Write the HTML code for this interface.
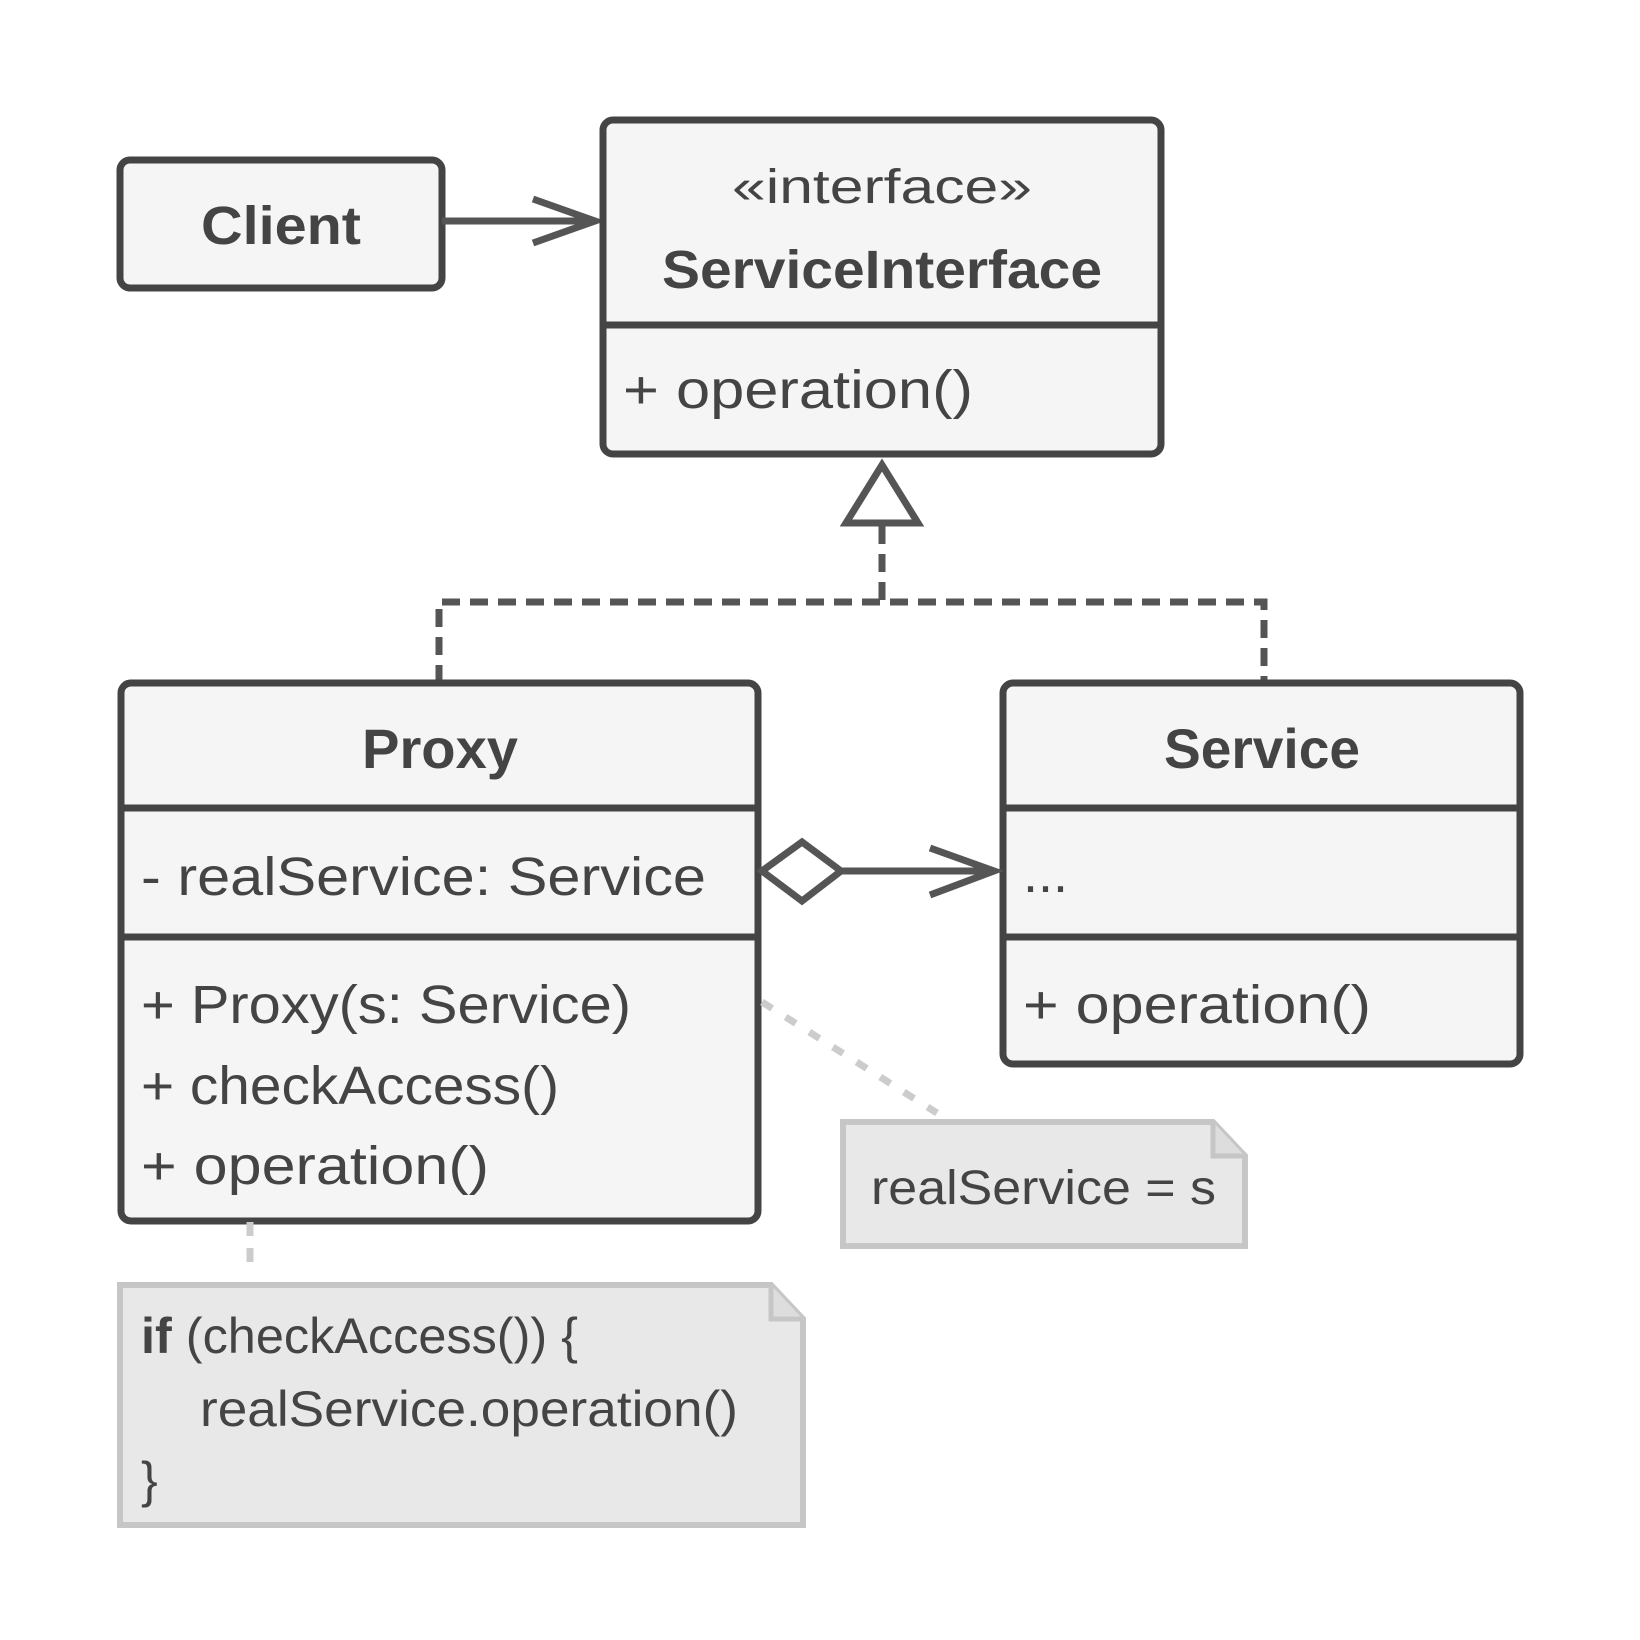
<!DOCTYPE html>
<html><head><meta charset="utf-8"><style>
html,body{margin:0;padding:0;background:#fff;}
svg{display:block}
text{font-family:"Liberation Sans",sans-serif;fill:#444;}
.b{font-weight:bold}
</style></head><body>
<svg width="1640" height="1640" viewBox="0 0 1640 1640" xmlns="http://www.w3.org/2000/svg">
<!-- Client -->
<rect x="120" y="160" width="322" height="128" rx="10" fill="#f5f5f5" stroke="#444" stroke-width="7"/>
<text x="281" y="244" class="b" font-size="54" text-anchor="middle" textLength="160" lengthAdjust="spacingAndGlyphs">Client</text>
<!-- arrow client -> interface -->
<line x1="442" y1="221" x2="596" y2="221" stroke="#555" stroke-width="7"/>
<polyline points="533,199 595,221 533,243" fill="none" stroke="#555" stroke-width="7"/>
<!-- ServiceInterface -->
<rect x="603" y="120" width="558" height="334" rx="10" fill="#f5f5f5" stroke="#444" stroke-width="7"/>
<line x1="603" y1="325" x2="1161" y2="325" stroke="#444" stroke-width="7"/>
<text x="882" y="203" font-size="48" text-anchor="middle" textLength="300" lengthAdjust="spacingAndGlyphs">«interface»</text>
<text x="882" y="288" class="b" font-size="54" text-anchor="middle" textLength="440" lengthAdjust="spacingAndGlyphs">ServiceInterface</text>
<text x="623" y="408" font-size="54" textLength="350" lengthAdjust="spacingAndGlyphs">+ operation()</text>
<!-- realization -->
<polygon points="882,465 918,523 846,523" fill="#fff" stroke="#555" stroke-width="7" stroke-linejoin="miter"/>
<polyline points="882,526 882,602" fill="none" stroke="#555" stroke-width="7" stroke-dasharray="18,10"/>
<polyline points="439,683 439,602 1264,602 1264,683" fill="none" stroke="#555" stroke-width="7" stroke-dasharray="18,10"/>
<!-- Proxy -->
<rect x="121" y="683" width="637" height="538" rx="10" fill="#f5f5f5" stroke="#444" stroke-width="7"/>
<line x1="121" y1="808" x2="758" y2="808" stroke="#444" stroke-width="7"/>
<line x1="121" y1="937" x2="758" y2="937" stroke="#444" stroke-width="7"/>
<text x="440" y="768" class="b" font-size="56" text-anchor="middle" textLength="156" lengthAdjust="spacingAndGlyphs">Proxy</text>
<text x="141" y="895" font-size="54" textLength="565" lengthAdjust="spacingAndGlyphs">- realService: Service</text>
<text x="141" y="1023" font-size="54" textLength="490" lengthAdjust="spacingAndGlyphs">+ Proxy(s: Service)</text>
<text x="141" y="1104" font-size="54" textLength="418" lengthAdjust="spacingAndGlyphs">+ checkAccess()</text>
<text x="141" y="1184" font-size="54" textLength="348" lengthAdjust="spacingAndGlyphs">+ operation()</text>
<!-- Service -->
<rect x="1003" y="683" width="517" height="381" rx="10" fill="#f5f5f5" stroke="#444" stroke-width="7"/>
<line x1="1003" y1="808" x2="1520" y2="808" stroke="#444" stroke-width="7"/>
<line x1="1003" y1="937" x2="1520" y2="937" stroke="#444" stroke-width="7"/>
<text x="1262" y="768" class="b" font-size="56" text-anchor="middle" textLength="196" lengthAdjust="spacingAndGlyphs">Service</text>
<text x="1023" y="892" font-size="54">...</text>
<text x="1023" y="1023" font-size="54" textLength="348" lengthAdjust="spacingAndGlyphs">+ operation()</text>
<!-- aggregation -->
<polygon points="762,871 802,842 841,871 802,901" fill="#fff" stroke="#555" stroke-width="7"/>
<line x1="841" y1="871" x2="995" y2="871" stroke="#555" stroke-width="7"/>
<polyline points="930,848 994,871 930,895" fill="none" stroke="#555" stroke-width="7"/>
<!-- note 1 -->
<line x1="762" y1="1002" x2="937" y2="1113" stroke="#ccc" stroke-width="7" stroke-dasharray="12,16"/>
<path d="M843,1122 L1213,1122 L1245,1156 L1245,1246 L843,1246 Z" fill="#e8e8e8" stroke="#c6c6c6" stroke-width="6"/>
<path d="M1213,1122 L1213,1156 L1245,1156" fill="#ddd" stroke="#c6c6c6" stroke-width="5"/>
<text x="871" y="1204" font-size="48" textLength="345" lengthAdjust="spacingAndGlyphs">realService = s</text>
<!-- note 2 -->
<line x1="250" y1="1222" x2="250" y2="1270" stroke="#ccc" stroke-width="7" stroke-dasharray="14,12"/>
<path d="M120,1285 L771,1285 L803,1319 L803,1525 L120,1525 Z" fill="#e8e8e8" stroke="#c6c6c6" stroke-width="6"/>
<path d="M771,1285 L771,1319 L803,1319" fill="#ddd" stroke="#c6c6c6" stroke-width="5"/>
<text x="141" y="1353" font-size="50" textLength="437" lengthAdjust="spacingAndGlyphs"><tspan class="b">if</tspan> (checkAccess()) {</text>
<text x="200" y="1426" font-size="50" textLength="538" lengthAdjust="spacingAndGlyphs">realService.operation()</text>
<text x="141" y="1497" font-size="50">}</text>
</svg>
</body></html>
